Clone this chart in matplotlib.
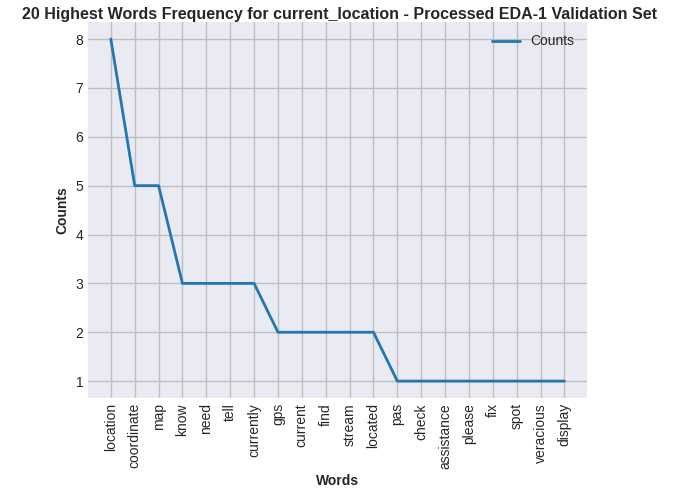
import matplotlib.pyplot as plt

words = ["location", "coordinate", "map", "know", "need", "tell", "currently", "gps",
         "current", "find", "stream", "located", "pas", "check", "assistance", "please",
         "fix", "spot", "veracious", "display"]
counts = [8, 5, 5, 3, 3, 3, 3, 2, 2, 2, 2, 2, 1, 1, 1, 1, 1, 1, 1, 1]

plt.style.use("seaborn-v0_8-darkgrid")
plt.rcParams["font.family"] = ["Arial", "Liberation Sans", "DejaVu Sans"]
fig, ax = plt.subplots(figsize=(6.78, 4.99), dpi=100)
ax.set_facecolor("#eaeaf2")
ax.grid(True, color="#bfbfbf", linewidth=1)
ax.plot(words, counts, linewidth=2, color="#1f77b4", label="Counts")
ax.tick_params(axis="x", rotation=90)
ax.set_xlabel("Words", fontweight="bold")
ax.set_ylabel("Counts", fontweight="bold")
fig.text(0.5, 0.985, "20 Highest Words Frequency for current_location - Processed EDA-1 Validation Set",
         fontweight="bold", fontsize=11.5, ha="center", va="top")
ax.legend(loc="upper right")
fig.subplots_adjust(left=0.13, right=0.866, top=0.956, bottom=0.202)
plt.savefig("out.png", dpi=100)
